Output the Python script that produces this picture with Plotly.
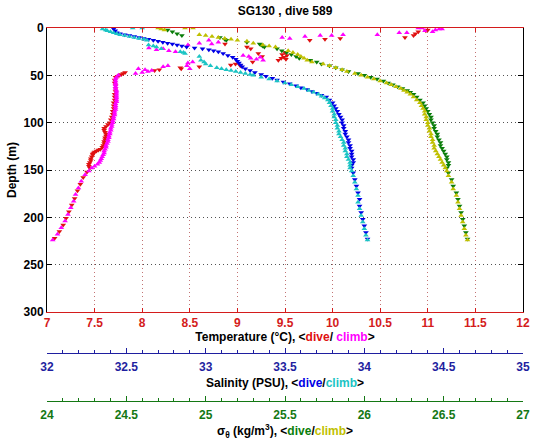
import plotly.graph_objects as go

# ---------------- data ----------------
# Temperature (degC) - dive
temp_dive_depth = [2, 3, 4, 6, 8, 10, 11, 12, 13, 17, 20, 22, 26, 27, 28, 29, 30, 31, 32, 33, 34, 36, 38, 39, 40,
                   41, 42, 43, 44, 45, 47, 48, 49, 50, 51, 52, 55, 58, 61, 64, 67, 70, 73, 76, 79, 82, 85, 88, 91,
                   94, 97, 100, 102, 104, 106, 108, 110, 112, 114, 116, 118, 120, 122, 124, 126, 128, 129, 130, 131,
                   132, 133, 134, 136, 138, 140, 142, 144, 146, 148, 152, 158, 165, 172, 180, 187, 194, 201, 208,
                   215, 222]
temp_dive = [11.00, 10.98, 10.90, 10.87, 10.85, 10.76, 10.08, 9.92, 9.76, 8.87, 9.10, 9.14, 9.50, 9.22, 9.47, 9.52,
             9.26, 9.49, 9.46, 9.51, 9.43, 9.16, 8.98, 8.93, 9.03, 8.60, 8.40, 8.41, 8.18, 8.13, 7.82, 7.80, 7.78,
             7.76, 7.74, 7.72, 7.71, 7.71, 7.72, 7.72, 7.72, 7.71, 7.71, 7.71, 7.70, 7.70, 7.70, 7.69, 7.69, 7.68,
             7.67, 7.66, 7.64, 7.62, 7.60, 7.60, 7.61, 7.62, 7.62, 7.61, 7.61, 7.60, 7.60, 7.59, 7.58, 7.56, 7.54,
             7.52, 7.50, 7.49, 7.48, 7.48, 7.47, 7.46, 7.46, 7.45, 7.44, 7.44, 7.45, 7.42, 7.38, 7.35, 7.32, 7.29,
             7.26, 7.23, 7.20, 7.17, 7.13, 7.08]

# Temperature (degC) - climb
temp_climb_depth = [224, 218, 211, 204, 197, 190, 183, 176, 169, 162, 155, 151, 148, 146, 144, 142, 140, 138, 136,
                    134, 132, 130, 128, 126, 124, 122, 120, 118, 116, 114, 112, 110, 108, 106, 104, 102, 100, 98,
                    96, 94, 92, 90, 88, 86, 84, 82, 80, 78, 76, 74, 72, 70, 68, 66, 64, 62, 60, 58, 56, 54, 52, 50,
                    48, 47, 46, 45, 44, 43, 43, 41, 40, 40, 37, 36, 34, 33, 32, 31, 30, 29, 25, 24, 23, 22, 21, 18,
                    17, 16, 15, 13, 11, 10, 9, 8, 8, 7, 7, 5, 5, 4, 3, 2, 1, 0, 0, 1]
temp_climb = [7.06, 7.11, 7.15, 7.19, 7.22, 7.25, 7.28, 7.30, 7.33, 7.36, 7.40, 7.44, 7.47, 7.50, 7.53, 7.55, 7.56,
              7.57, 7.58, 7.59, 7.60, 7.60, 7.61, 7.62, 7.62, 7.63, 7.64, 7.64, 7.65, 7.65, 7.66, 7.66, 7.67, 7.67,
              7.68, 7.68, 7.69, 7.69, 7.70, 7.70, 7.71, 7.71, 7.71, 7.72, 7.72, 7.72, 7.72, 7.73, 7.73, 7.73, 7.73,
              7.73, 7.73, 7.73, 7.72, 7.72, 7.72, 7.72, 7.72, 7.72, 7.73, 7.75, 7.93, 8.00, 8.06, 8.10, 8.03, 7.96,
              8.50, 8.22, 8.27, 8.47, 8.48, 8.53, 9.27, 9.20, 9.14, 9.24, 9.12, 9.06, 8.35, 8.28, 8.15, 8.22, 8.07,
              8.48, 8.73, 8.60, 8.80, 8.70, 9.55, 9.47, 9.71, 9.87, 9.99, 10.11, 10.47, 10.70, 10.78, 11.05, 10.97,
              11.08, 11.12, 10.90, 10.94, 11.15]

# Salinity (PSU) - dive
sal_dive_depth = [1, 3, 5, 6, 7, 8, 9, 10, 11, 12, 13, 14, 15, 16, 17, 18, 19, 20, 21, 22, 23, 24, 25, 27, 29, 31,
                  33, 35, 37, 39, 41, 43, 45, 47, 49, 51, 53, 55, 57, 59, 61, 63, 65, 67, 69, 71, 73, 76, 79, 82,
                  85, 88, 91, 94, 97, 100, 103, 106, 109, 112, 115, 118, 121, 124, 127, 130, 133, 136, 139, 142,
                  145, 148, 153, 160, 167, 174, 181, 188, 195, 202, 209, 216, 223]
sal_dive = [32.42, 32.43, 32.44, 32.46, 32.49, 32.52, 32.55, 32.58, 32.61, 32.64, 32.67, 32.70, 32.73, 32.76, 32.79,
            32.82, 32.85, 32.88, 32.93, 32.98, 33.02, 33.05, 33.08, 33.11, 33.14, 33.17, 33.19, 33.20, 33.21, 33.22,
            33.23, 33.25, 33.28, 33.31, 33.35, 33.38, 33.42, 33.45, 33.49, 33.53, 33.57, 33.60, 33.64, 33.67, 33.70,
            33.73, 33.76, 33.78, 33.80, 33.81, 33.82, 33.83, 33.84, 33.85, 33.86, 33.86, 33.87, 33.87, 33.88, 33.88,
            33.89, 33.90, 33.90, 33.91, 33.91, 33.92, 33.92, 33.92, 33.93, 33.93, 33.92, 33.92, 33.93, 33.94, 33.95,
            33.96, 33.97, 33.97, 33.98, 33.99, 34.00, 34.01, 34.02]

# Salinity (PSU) - climb
sal_climb_depth = [0, 0, 1, 2, 3, 4, 5, 6, 7, 8, 9, 10, 11, 12, 13, 18, 19, 20, 22, 25, 26, 27, 30, 34, 36, 38, 40,
                   42, 43, 44, 45, 46, 47, 48, 49, 50, 52, 54, 56, 58, 60, 62, 64, 66, 68, 70, 72, 74, 76, 79, 82,
                   85, 88, 91, 94, 97, 100, 103, 106, 109, 112, 115, 118, 121, 124, 127, 130, 133, 136, 139, 142,
                   145, 148, 151, 156, 163, 170, 177, 184, 191, 198, 205, 212, 219, 224]
sal_climb = [32.54, 32.60, 32.35, 32.37, 32.38, 32.40, 32.42, 32.44, 32.46, 32.49, 32.52, 32.55, 32.58, 32.61, 32.63,
             32.64, 32.67, 32.69, 32.72, 32.84, 32.86, 32.87, 32.96, 32.97, 32.99, 33.00, 33.03, 33.07, 33.10, 33.13,
             33.16, 33.19, 33.22, 33.25, 33.28, 33.30, 33.35, 33.40, 33.45, 33.50, 33.54, 33.58, 33.62, 33.65, 33.68,
             33.71, 33.73, 33.75, 33.77, 33.78, 33.79, 33.80, 33.80, 33.81, 33.81, 33.82, 33.82, 33.83, 33.83, 33.84,
             33.84, 33.85, 33.86, 33.87, 33.87, 33.88, 33.88, 33.89, 33.89, 33.90, 33.91, 33.91, 33.91, 33.92, 33.93,
             33.94, 33.95, 33.96, 33.96, 33.97, 33.98, 33.99, 34.00, 34.01, 34.02]

# Sigma-theta (kg/m3) - dive
sig_dive_depth = [2, 4, 6, 8, 10, 12, 13, 15, 17, 18, 19, 20, 22, 24, 26, 28, 30, 32, 34, 36, 38, 40, 42, 44, 46,
                  48, 50, 52, 54, 56, 58, 60, 62, 64, 66, 68, 70, 73, 76, 79, 82, 85, 88, 91, 94, 97, 100, 103, 106,
                  109, 112, 115, 118, 121, 124, 127, 130, 133, 136, 139, 142, 145, 148, 153, 160, 167, 174, 181, 188,
                  195, 202, 209, 216, 223]
sig_dive = [24.76, 24.79, 24.82, 24.85, 25.09, 25.12, 25.13, 25.26, 25.34, 25.35, 25.36, 25.37, 25.45, 25.48, 25.51,
            25.54, 25.57, 25.59, 25.66, 25.70, 25.73, 25.78, 25.82, 25.86, 25.90, 25.96, 26.00, 26.04, 26.08, 26.12,
            26.15, 26.18, 26.21, 26.24, 26.27, 26.29, 26.31, 26.33, 26.35, 26.37, 26.38, 26.39, 26.40, 26.41, 26.42,
            26.42, 26.43, 26.44, 26.44, 26.45, 26.46, 26.46, 26.47, 26.48, 26.48, 26.49, 26.50, 26.51, 26.52, 26.52,
            26.53, 26.53, 26.52, 26.53, 26.55, 26.56, 26.58, 26.59, 26.60, 26.61, 26.62, 26.63, 26.64, 26.65]

# Sigma-theta (kg/m3) - climb
sig_climb_depth = [0, 1, 2, 0, 0, 7, 8, 9, 10, 11, 12, 13, 14, 16, 18, 19, 20, 24, 26, 28, 30, 32, 34, 36, 38, 40,
                   42, 44, 46, 48, 50, 52, 54, 56, 58, 60, 62, 64, 66, 68, 70, 73, 76, 79, 82, 85, 88, 91, 94, 97,
                   100, 103, 106, 109, 112, 115, 118, 121, 124, 127, 130, 133, 136, 139, 142, 145, 148, 151, 156,
                   163, 170, 177, 184, 191, 198, 205, 212, 219, 224]
sig_climb = [24.70, 24.72, 24.74, 24.87, 24.92, 24.96, 25.00, 25.04, 25.08, 25.12, 25.16, 25.20, 25.26, 25.30, 25.36,
             25.40, 25.44, 25.52, 25.55, 25.58, 25.60, 25.62, 25.64, 25.67, 25.74, 25.78, 25.82, 25.86, 25.89, 25.94,
             25.98, 26.02, 26.06, 26.10, 26.14, 26.17, 26.20, 26.23, 26.25, 26.27, 26.29, 26.31, 26.33, 26.35, 26.36,
             26.37, 26.38, 26.38, 26.39, 26.39, 26.40, 26.40, 26.41, 26.41, 26.42, 26.42, 26.43, 26.43, 26.44, 26.44,
             26.45, 26.46, 26.47, 26.48, 26.49, 26.50, 26.51, 26.52, 26.53, 26.55, 26.56, 26.58, 26.59, 26.60, 26.61,
             26.62, 26.63, 26.64, 26.65]

# ---------------- styles ----------------
FONT = "Liberation Sans, Arial, Helvetica, sans-serif"
RED = "#e01010"
MAGENTA = "#ff00ff"
BLUE = "#0000e6"
CYAN = "#1cc4c4"
GREEN = "#0a7d0a"
YELLOW = "#bfbf00"
T_AXIS = "#d41c1c"
S_AXIS = "#1f1fa0"
G_AXIS = "#147814"
MS = 5

fig = go.Figure()


def add(x, y, color, symbol, xaxis, name):
    fig.add_trace(go.Scatter(x=x, y=y, mode="markers", name=name, xaxis=xaxis, yaxis="y",
                             marker=dict(symbol=symbol, size=MS, color=color, line=dict(width=0)),
                             showlegend=False))


add(temp_dive, temp_dive_depth, RED, "triangle-down", "x", "T dive")
add(temp_climb, temp_climb_depth, MAGENTA, "triangle-up", "x", "T climb")
add(sal_dive, sal_dive_depth, BLUE, "triangle-down", "x2", "S dive")
add(sal_climb, sal_climb_depth, CYAN, "triangle-up", "x2", "S climb")
add(sig_dive, sig_dive_depth, GREEN, "triangle-down", "x3", "sigma dive")
add(sig_climb, sig_climb_depth, YELLOW, "triangle-up", "x3", "sigma climb")

W, H = 535, 442
ML, MR, MT, MB = 47, 12, 28, 30
ph = H - MT - MB
plot_bottom_px = 312
dom0 = (H - MB - plot_bottom_px) / ph
pos_s = (H - MB - 353) / ph
pos_g = (H - MB - 401) / ph


def tickfont_b(c):
    return dict(family=FONT, size=12, color=c, weight="bold")


TITLE_FONT = dict(family=FONT, size=12, color="black")

fig.update_layout(
    width=W, height=H,
    margin=dict(l=ML, r=MR, t=MT, b=MB, autoexpand=False),
    paper_bgcolor="white", plot_bgcolor="white",
    font=dict(family=FONT, size=12, color="black"),
    title=dict(text="<b>SG130 , dive 589</b>", x=(ML + (W - ML - MR) / 2) / W, xanchor="center",
               y=1 - 11 / H, yanchor="middle", font=TITLE_FONT),
    yaxis=dict(domain=[dom0, 1], range=[300, 0], tick0=0, dtick=50, ticks="inside", ticklen=5,
               tickcolor="black", showline=True, linecolor="black", linewidth=1, mirror="ticks",
               showgrid=True, gridcolor="rgba(40,40,40,0.8)", griddash="1px,3px", gridwidth=1,
               zeroline=False, tickfont=tickfont_b("black"), automargin=False,
               title=dict(text="<b>Depth (m)</b>", font=TITLE_FONT, standoff=4)),
    xaxis=dict(range=[7, 12], tick0=7, dtick=0.5, anchor="y", ticks="inside", ticklen=4,
               tickcolor=T_AXIS, showline=True, linecolor=T_AXIS, linewidth=1, mirror="ticks",
               showgrid=True, gridcolor="rgba(180,80,80,0.8)", griddash="1px,3px", gridwidth=1,
               zeroline=False, tickfont=tickfont_b(T_AXIS), automargin=False,
               title=dict(text="<b>Temperature (°C), &lt;<span style='color:#e01010'>dive</span>/ "
                               "<span style='color:#ff00ff'>climb</span>&gt;</b>",
                          font=TITLE_FONT, standoff=0)),
    xaxis2=dict(range=[32, 35], tick0=32, dtick=0.5, overlaying="x", anchor="free", position=pos_s,
                side="bottom", ticks="inside", ticklen=5, tickcolor=S_AXIS, showline=True, linecolor=S_AXIS,
                linewidth=1, showgrid=False, zeroline=False, tickfont=tickfont_b(S_AXIS),
                ticklabelstandoff=3, automargin=False,
                minor=dict(dtick=0.1, tick0=32, ticks="inside", ticklen=3, tickcolor=S_AXIS, showgrid=False),
                title=dict(text="<b>Salinity (PSU), &lt;<span style='color:#0000e6'>dive</span>/"
                                "<span style='color:#1cc4c4'>climb</span>&gt;</b>",
                           font=TITLE_FONT, standoff=5)),
    xaxis3=dict(range=[24, 27], tick0=24, dtick=0.5, overlaying="x", anchor="free", position=pos_g,
                side="bottom", ticks="inside", ticklen=5, tickcolor=G_AXIS, showline=True, linecolor=G_AXIS,
                linewidth=1, showgrid=False, zeroline=False, tickfont=tickfont_b(G_AXIS),
                ticklabelstandoff=3, automargin=False,
                minor=dict(dtick=0.1, tick0=24, ticks="inside", ticklen=3, tickcolor=G_AXIS, showgrid=False),
                title=dict(text="<b>σ<sub>θ</sub> (kg/m<sup>3</sup>), &lt;<span style='color:#0a7d0a'>dive</span>/"
                                "<span style='color:#bfbf00'>climb</span>&gt;</b>",
                           font=TITLE_FONT, standoff=2)),
)

fig.write_html("out.html", config={"displayModeBar": False},
               post_script="document.body.style.margin='0px';")
